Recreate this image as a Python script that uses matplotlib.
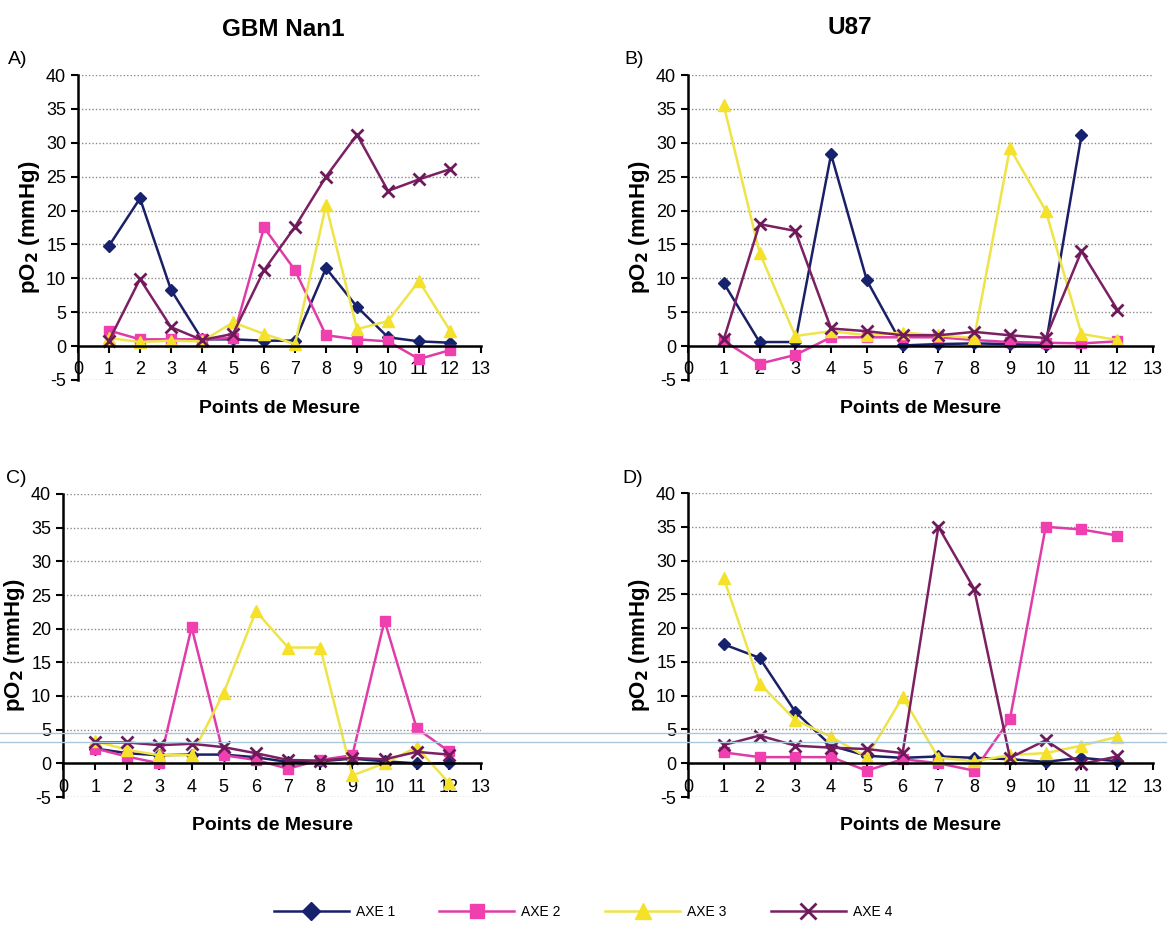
import numpy as np
import matplotlib
matplotlib.use('Agg')
import matplotlib.pyplot as plt
from matplotlib.lines import Line2D

plt.rcParams['font.family'] = ['Liberation Sans', 'DejaVu Sans']
plt.rcParams['axes.unicode_minus'] = False

points = list(range(1, 13))
series_names = ['AXE 1', 'AXE 2', 'AXE 3', 'AXE 4']

# panel A - GBM Nan1
a_axe1 = [14.8, 21.8, 8.3, 1.0, 1.0, 0.8, 0.8, 11.5, 5.8, 1.3, 0.7, 0.5]
a_axe2 = [2.3, 1.0, 1.0, 1.0, 1.2, 17.5, 11.2, 1.6, 1.0, 0.7, -1.9, -0.6]
a_axe3 = [1.2, 0.6, 0.8, 0.7, 3.5, 1.8, 0.3, 20.8, 2.5, 3.7, 9.6, 2.3]
a_axe4 = [0.8, 9.9, 2.8, 0.9, 1.8, 11.2, 17.6, 25.0, 31.2, 22.9, 24.6, 26.1]

# panel B - U87
b_axe1 = [9.3, 0.6, 0.6, 28.3, 9.7, 0.1, 0.3, 0.4, 0.3, 0.2, 31.1, np.nan]
b_axe2 = [0.8, -2.6, -1.3, 1.3, 1.3, 1.3, 1.3, 0.9, 0.6, 0.5, 0.4, 0.7]
b_axe3 = [35.5, 13.8, 1.5, 2.2, 1.6, 2.0, 1.6, 1.2, 29.2, 20.0, 1.8, 0.9]
b_axe4 = [1.0, 18.0, 17.0, 2.6, 2.2, 1.6, 1.6, 2.1, 1.6, 1.2, 14.0, 5.4]

# panel C - GBM Nan1
c_axe1 = [2.2, 1.5, 1.2, 1.3, 1.3, 0.9, 0.2, 0.3, 0.7, 0.3, 0.0, 0.0]
c_axe2 = [2.2, 1.0, 0.0, 20.2, 1.2, 0.5, -0.8, 0.5, 1.2, 21.2, 5.2, 1.8]
c_axe3 = [3.3, 2.0, 1.2, 1.2, 10.5, 22.6, 17.2, 17.2, -1.8, 0.0, 2.4, -2.9]
c_axe4 = [3.1, 3.1, 2.7, 2.9, 2.4, 1.5, 0.5, 0.4, 0.8, 0.6, 1.7, 1.3]

# panel D - U87
d_axe1 = [17.6, 15.6, 7.6, 2.6, 1.1, 0.8, 1.0, 0.8, 0.6, 0.2, 0.8, 0.3]
d_axe2 = [1.6, 0.9, 0.9, 0.9, -1.1, 0.6, 0.0, -1.1, 6.5, 35.0, 34.6, 33.7]
d_axe3 = [27.4, 11.8, 6.4, 3.9, 0.9, 9.8, 0.8, 0.3, 1.2, 1.5, 2.6, 3.9]
d_axe4 = [2.7, 4.1, 2.6, 2.3, 2.1, 1.5, 35.0, 25.8, 0.8, 3.4, -0.1, 1.0]

line_colors = ['#1b1f66', '#e03ca8', '#eee44a', '#7b2062']
marker_colors = ['#17226e', '#f040b0', '#f5e12a', '#6e1a5a']
markers = ['D', 's', '^', 'x']
msizes = [6, 7, 8, 9]

W, H = 1167, 925
fig = plt.figure(figsize=(W / 100, H / 100), dpi=100)
fig.patch.set_facecolor('white')


def px_axes(x0, x1, ytop, ybot):
    return fig.add_axes([x0 / W, 1 - ybot / H, (x1 - x0) / W, (ybot - ytop) / H])


def draw_panel(ax, data, letter, lx, ly):
    for i, vals in enumerate(data):
        ax.plot(points, vals, color=line_colors[i], lw=1.8,
                marker=markers[i], ms=msizes[i], mfc=marker_colors[i],
                mec=marker_colors[i], mew=2 if markers[i] == 'x' else 1)
    ax.set_xlim(0, 13)
    ax.set_ylim(-5, 40)
    ax.set_xticks(range(0, 14))
    ax.set_yticks(range(-5, 41, 5))
    ax.spines['top'].set_visible(False)
    ax.spines['right'].set_visible(False)
    ax.spines['bottom'].set_position(('data', 0))
    ax.spines['bottom'].set_linewidth(1.8)
    ax.spines['left'].set_linewidth(1.8)
    ax.tick_params(axis='both', direction='out', length=5, width=1.5,
                   labelsize=13, colors='black')
    ax.tick_params(axis='x', pad=6)
    for yv in range(-5, 41, 5):
        if yv != 0:
            ax.axhline(yv, color='#8a8a8a', lw=1.0, ls=(0, (1, 1.5)), zorder=0)
    ax.set_ylabel('pO$_\\mathbf{2}$ (mmHg)', fontsize=16, fontweight='bold', labelpad=3)
    ax.text(0.5, -0.095, 'Points de Mesure', transform=ax.transAxes, ha='center',
            va='center', fontsize=14, fontweight='bold')
    fig.text(lx / W, 1 - ly / H, letter, fontsize=14, ha='left', va='center')


ax_a = px_axes(78, 481, 75, 380)
draw_panel(ax_a, [a_axe1, a_axe2, a_axe3, a_axe4], 'A)', 8, 60)
ax_b = px_axes(688, 1153, 75, 380)
draw_panel(ax_b, [b_axe1, b_axe2, b_axe3, b_axe4], 'B)', 624, 60)
ax_c = px_axes(63, 481, 494, 797)
draw_panel(ax_c, [c_axe1, c_axe2, c_axe3, c_axe4], 'C)', 6, 478)
ax_d = px_axes(688, 1153, 493, 797)
draw_panel(ax_d, [d_axe1, d_axe2, d_axe3, d_axe4], 'D)', 622, 478)

fig.text(283 / W, 1 - 30 / H, 'GBM Nan1', fontsize=17.5, fontweight='bold', ha='center', va='center')
fig.text(850 / W, 1 - 28 / H, 'U87', fontsize=17.5, fontweight='bold', ha='center', va='center')

# scan artefact lines
for yy in (733, 742):
    fig.add_artist(Line2D([0, 1], [1 - yy / H, 1 - yy / H], transform=fig.transFigure,
                          color='#a9c8dc', lw=1.0))

handles = [Line2D([], [], color=line_colors[i], lw=1.8, marker=markers[i], ms=msizes[i] + 3,
                  mfc=marker_colors[i], mec=marker_colors[i],
                  mew=2 if markers[i] == 'x' else 1) for i in range(4)]
fig.legend(handles, series_names, loc='center', bbox_to_anchor=(583 / W, 1 - 912 / H),
           ncol=4, frameon=False, fontsize=10, handlelength=5.4, columnspacing=3.2,
           handletextpad=0.5)

fig.savefig('out.png', dpi=100)
